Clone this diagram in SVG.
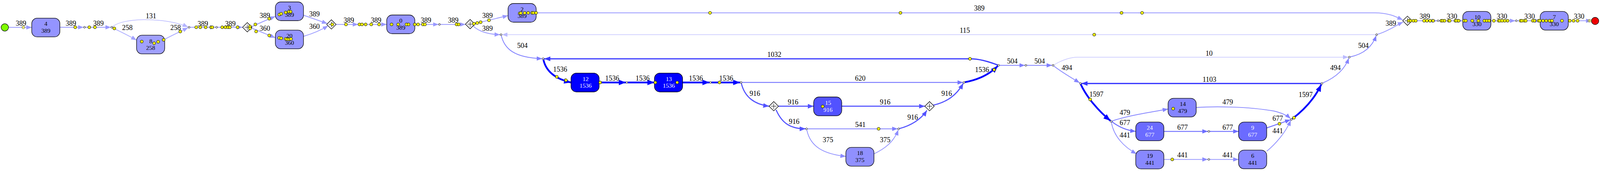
<svg xmlns="http://www.w3.org/2000/svg" width="4748" height="439" viewBox="0 0 4748 439">
<style>
.e{fill:none}
.c389{stroke:#9999FF;stroke-width:2}
.c131{stroke:#B5B5FF;stroke-width:1.5}
.c258{stroke:#A3A3FF;stroke-width:1.8}
.c1536{stroke:#0000FF;stroke-width:4.5}
.c1032{stroke:#3A3AFF;stroke-width:3.2}
.c916{stroke:#5252FF;stroke-width:2.8}
.c620{stroke:#7373FF;stroke-width:2.2}
.c677{stroke:#6D6DFF;stroke-width:2.3}
.c504{stroke:#7F7FFF;stroke-width:2}
.c479{stroke:#8585FF;stroke-width:2}
.c441{stroke:#8C8CFF;stroke-width:1.8}
.c10{stroke:#C4C4FF;stroke-width:1.4}
.l{font-family:"Liberation Serif","Times New Roman",serif;font-size:18px;text-anchor:middle;fill:#000}
.t{font-family:"Liberation Serif","Times New Roman",serif;font-size:15.5px;text-anchor:middle;fill:#000}
.w{fill:#fff}
.nd{stroke:#000;stroke-width:1.3}
.y{fill:#FFFF00;stroke:#000;stroke-width:1}
.f{opacity:.55}
.s{fill:#fff;stroke:#000;stroke-width:1}
.dm{fill:#fff;stroke:#000;stroke-width:1.3}
.pl{fill:none;stroke:#000;stroke-width:1}
</style>
<defs>
<marker id="m389" viewBox="0 0 14 11" refX="14" refY="5.5" markerWidth="14" markerHeight="11" markerUnits="userSpaceOnUse" orient="auto"><path d="M0,0L14,5.5L0,11z" fill="#9999FF"/></marker>
<marker id="m131" viewBox="0 0 14 11" refX="14" refY="5.5" markerWidth="14" markerHeight="11" markerUnits="userSpaceOnUse" orient="auto"><path d="M0,0L14,5.5L0,11z" fill="#B5B5FF"/></marker>
<marker id="m258" viewBox="0 0 14 11" refX="14" refY="5.5" markerWidth="14" markerHeight="11" markerUnits="userSpaceOnUse" orient="auto"><path d="M0,0L14,5.5L0,11z" fill="#A3A3FF"/></marker>
<marker id="m1536" viewBox="0 0 18 14" refX="18" refY="7" markerWidth="18" markerHeight="14" markerUnits="userSpaceOnUse" orient="auto"><path d="M0,0L18,7L0,14z" fill="#0000FF"/></marker>
<marker id="m1032" viewBox="0 0 16 12" refX="16" refY="6" markerWidth="16" markerHeight="12" markerUnits="userSpaceOnUse" orient="auto"><path d="M0,0L16,6L0,12z" fill="#3A3AFF"/></marker>
<marker id="m916" viewBox="0 0 15 12" refX="15" refY="6" markerWidth="15" markerHeight="12" markerUnits="userSpaceOnUse" orient="auto"><path d="M0,0L15,6L0,12z" fill="#5252FF"/></marker>
<marker id="m620" viewBox="0 0 14 11" refX="14" refY="5.5" markerWidth="14" markerHeight="11" markerUnits="userSpaceOnUse" orient="auto"><path d="M0,0L14,5.5L0,11z" fill="#7373FF"/></marker>
<marker id="m677" viewBox="0 0 14 11" refX="14" refY="5.5" markerWidth="14" markerHeight="11" markerUnits="userSpaceOnUse" orient="auto"><path d="M0,0L14,5.5L0,11z" fill="#6D6DFF"/></marker>
<marker id="m504" viewBox="0 0 14 11" refX="14" refY="5.5" markerWidth="14" markerHeight="11" markerUnits="userSpaceOnUse" orient="auto"><path d="M0,0L14,5.5L0,11z" fill="#7F7FFF"/></marker>
<marker id="m479" viewBox="0 0 14 11" refX="14" refY="5.5" markerWidth="14" markerHeight="11" markerUnits="userSpaceOnUse" orient="auto"><path d="M0,0L14,5.5L0,11z" fill="#8585FF"/></marker>
<marker id="m441" viewBox="0 0 14 11" refX="14" refY="5.5" markerWidth="14" markerHeight="11" markerUnits="userSpaceOnUse" orient="auto"><path d="M0,0L14,5.5L0,11z" fill="#8C8CFF"/></marker>
<marker id="m10" viewBox="0 0 14 11" refX="14" refY="5.5" markerWidth="14" markerHeight="11" markerUnits="userSpaceOnUse" orient="auto"><path d="M0,0L14,5.5L0,11z" fill="#BBBBFF"/></marker>
<g id="dia"><path d="M-12,0L0,-12L12,0L0,12Z" class="dm"/><path d="M-7,0H7M0,-7V7" class="pl"/></g>
</defs>
<g id="connectors">
<path class="e c389" marker-end="url(#m389)" d="M21.8,70.3H81.3"/>
<path class="e c389" marker-end="url(#m389)" d="M153.3,70H213.8"/>
<path class="e c389" marker-end="url(#m389)" d="M218.8,70H283.7"/>
<path class="e c258" marker-end="url(#m258)" d="M288,71.5C306,80 332,93 349.6,103"/>
<path class="e c131" marker-end="url(#m131)" d="M288,68.5C302,57 332,51 366.6,50.5C409.8,50 452.9,57 481.5,69.3"/>
<path class="e c258" marker-end="url(#m258)" d="M418.9,102.3C435.7,93 461.5,81 481.5,71"/>
<path class="e c389" marker-end="url(#m389)" d="M486.5,70H551.9"/>
<path class="e c389" marker-end="url(#m389)" d="M556.9,70H621"/>
<path class="e c389" marker-end="url(#m389)" d="M644.3,68.5C660,61 685.8,50 704.9,42"/>
<path class="e c389" marker-end="url(#m389)" d="M644.3,72C660,79 685.8,89 704.9,97"/>
<path class="e c389" marker-end="url(#m389)" d="M776.9,39L838,60.5"/>
<path class="e c389" marker-end="url(#m389)" d="M776.9,93.3C802,86 824,76 840,66"/>
<path class="e c389" marker-end="url(#m389)" d="M860.3,62.7H917"/>
<path class="e c389" marker-end="url(#m389)" d="M917,62.7H990"/>
<path class="e c389" marker-end="url(#m389)" d="M1062,62.7H1122.5"/>
<path class="e c389" marker-end="url(#m389)" d="M1127.5,62.7H1191.5"/>
<path class="e c389" marker-end="url(#m389)" d="M1213.5,61C1242.2,54 1276.8,46 1300.6,40"/>
<path class="e c389" marker-end="url(#m389)" d="M1211.5,67C1225.3,80 1246.8,88 1280.1,89"/>
<path class="e c10" marker-end="url(#m10)" d="M3521.6,89H1285.1"/>
<path class="e c504" marker-end="url(#m504)" d="M1283.3,91.5C1291.5,125 1315.3,148 1387.9,150.7"/>
<path class="e c1032" marker-end="url(#m1032)" d="M2554.4,167C2527.7,157 2506.1,151 2483.1,151H1392.9"/>
<path class="e c1536" marker-end="url(#m1536)" d="M1391.1,153C1397.4,182 1419.2,202 1461.8,211.7"/>
<path class="e c1536" marker-end="url(#m1536)" d="M1533.8,211.7H1602.1"/>
<path class="e c1536" marker-end="url(#m1536)" d="M1607.1,211.7H1675.4"/>
<path class="e c1536" marker-end="url(#m1536)" d="M1747.4,211.7H1816.3"/>
<path class="e c1536" marker-end="url(#m1536)" d="M1821.3,211.7H1894.6"/>
<path class="e c620" marker-end="url(#m620)" d="M1899.6,211.7H2465.4"/>
<path class="e c916" marker-end="url(#m916)" d="M1897.8,214C1906.6,250 1932.4,268 1968.8,272.7"/>
<path class="e c916" marker-end="url(#m916)" d="M1992.8,272.7H2082.9"/>
<path class="e c916" marker-end="url(#m916)" d="M1986.8,282C2001.5,316 2023.1,330.7 2062.2,330.7"/>
<path class="e c504" marker-end="url(#m504)" d="M2067.2,330.7H2298"/>
<path class="e c441" marker-end="url(#m441)" d="M2065.3,333C2074.8,380 2113.6,396 2165.4,401.5"/>
<path class="e c441" marker-end="url(#m441)" d="M2237.4,395C2264.6,382 2287.9,365 2299.5,333.5"/>
<path class="e c916" marker-end="url(#m916)" d="M2154.9,272.7H2367.6"/>
<path class="e c916" marker-end="url(#m916)" d="M2302.7,330C2329.3,323 2356.9,308 2372.8,283.5"/>
<path class="e c916" marker-end="url(#m916)" d="M2389.3,270C2424.2,262 2448.3,245 2466,214"/>
<path class="e c1536" marker-end="url(#m1536)" d="M2470.2,211C2501.8,205 2532,192 2554.1,169.5"/>
<path class="e c504" marker-end="url(#m504)" d="M2558.9,167.7H2623.6"/>
<path class="e c504" marker-end="url(#m504)" d="M2628.6,167.7H2693.4"/>
<path class="e c10" marker-end="url(#m10)" d="M2697.9,166.5C2717.5,155 2739.1,146.7 2759.8,146.7H3451.7"/>
<path class="e c479" marker-end="url(#m479)" d="M2697.9,169.5C2717.5,185 2743.4,200 2763.8,212.5"/>
<path class="e c1032" marker-end="url(#m1032)" d="M3381.6,214.3H2768.3"/>
<path class="e c1536" marker-end="url(#m1536)" d="M2766.8,216.5C2782.1,250 2812.4,285 2842.7,310"/>
<path class="e c479" marker-end="url(#m479)" d="M2846.6,311C2881.4,298 2950.4,287 2990.3,280"/>
<path class="e c677" marker-end="url(#m677)" d="M2846.6,312.5C2864.2,326 2885.7,335 2907.5,337.3"/>
<path class="e c441" marker-end="url(#m441)" d="M2845.1,314C2851.2,350 2877.1,377 2909.5,395"/>
<path class="e c677" marker-end="url(#m677)" d="M2979.5,337.3H3092"/>
<path class="e c441" marker-end="url(#m441)" d="M2979.5,409.3H3092"/>
<path class="e c677" marker-end="url(#m677)" d="M3097,337.3H3170.8"/>
<path class="e c441" marker-end="url(#m441)" d="M3097,409.3H3170.8"/>
<path class="e c479" marker-end="url(#m479)" d="M3062.3,276C3105.7,273 3192,273 3261,285C3282.6,290 3295.5,297 3303.8,304.5"/>
<path class="e c677" marker-end="url(#m677)" d="M3242.8,328.3L3303.6,307.5"/>
<path class="e c441" marker-end="url(#m441)" d="M3242.8,388.3C3265.3,370 3291.2,340 3304.3,309"/>
<path class="e c1536" marker-end="url(#m1536)" d="M3308.3,305C3338.6,282 3364.5,255 3382.4,217"/>
<path class="e c479" marker-end="url(#m479)" d="M3386.4,213C3416.3,200 3442.2,180 3452.7,149.2"/>
<path class="e c504" marker-end="url(#m504)" d="M3456.7,146C3485.3,140 3511.1,125 3523.1,91.5"/>
<path class="e c389" marker-end="url(#m389)" d="M3526.6,88C3554.3,80 3571.6,66 3592.1,56.5"/>
<path class="e c389" marker-end="url(#m389)" d="M1372.6,33H3519.8C3554.3,33 3571.6,42 3591.1,51"/>
<path class="e c389" marker-end="url(#m389)" d="M3615,53.3H3679"/>
<path class="e c389" marker-end="url(#m389)" d="M3684,53.3H3744.7"/>
<path class="e c389" marker-end="url(#m389)" d="M3816.7,53.3H3879.3"/>
<path class="e c389" marker-end="url(#m389)" d="M3884.3,53.3H3942.8"/>
<path class="e c389" marker-end="url(#m389)" d="M4014.8,53.3H4074.1"/>
<g id="edge-labels">
<text class="l" x="53.7" y="66">389</text>
<text class="l" x="181.4" y="66">389</text>
<text class="l" x="251.9" y="66">389</text>
<text class="l" x="326" y="76.7">258</text>
<text class="l" x="386.5" y="47.3">131</text>
<text class="l" x="449.5" y="76.7">258</text>
<text class="l" x="519.3" y="66.7">389</text>
<text class="l" x="589.8" y="66.7">389</text>
<text class="l" x="678.1" y="46">389</text>
<text class="l" x="678.1" y="79.3">360</text>
<text class="l" x="805.1" y="42">389</text>
<text class="l" x="805.1" y="74">360</text>
<text class="l" x="892.9" y="58.3">389</text>
<text class="l" x="962.8" y="58.3">389</text>
<text class="l" x="1090.5" y="58.3">389</text>
<text class="l" x="1160.3" y="58.3">389</text>
<text class="l" x="1248.1" y="46">389</text>
<text class="l" x="1248.1" y="79.3">389</text>
<text class="l" x="1337.2" y="123.3">504</text>
<text class="l" x="2507" y="27">389</text>
<text class="l" x="2469.9" y="84">115</text>
<text class="l" x="1434" y="184.3">1536</text>
<text class="l" x="1567.2" y="206.7">1536</text>
<text class="l" x="1644.9" y="206.7">1536</text>
<text class="l" x="1781.5" y="206.7">1536</text>
<text class="l" x="1859.1" y="206.7">1536</text>
<text class="l" x="1982.2" y="146">1032</text>
<text class="l" x="2202.2" y="206.7">620</text>
<text class="l" x="1932.4" y="246">916</text>
<text class="l" x="2030.2" y="268.3">916</text>
<text class="l" x="2033" y="318.3">916</text>
<text class="l" x="2202.5" y="326">541</text>
<text class="l" x="2119.4" y="365">375</text>
<text class="l" x="2266" y="365">375</text>
<text class="l" x="2266" y="268.3">916</text>
<text class="l" x="2336.4" y="307.3">916</text>
<text class="l" x="2423.6" y="246">916</text>
<text class="l" x="2514" y="185">1536</text>
<text class="l" x="2591.5" y="163.3">504</text>
<text class="l" x="2661.4" y="163.3">504</text>
<text class="l" x="2731.3" y="180">494</text>
<text class="l" x="3095.3" y="142.7">10</text>
<text class="l" x="3096.2" y="210">1103</text>
<text class="l" x="2806.8" y="248.3">1597</text>
<text class="l" x="2879.7" y="295">479</text>
<text class="l" x="2879.7" y="320.7">677</text>
<text class="l" x="2879.7" y="352.7">441</text>
<text class="l" x="3027.2" y="332.7">677</text>
<text class="l" x="3027.2" y="404.3">441</text>
<text class="l" x="3143" y="268.3">479</text>
<text class="l" x="3143" y="332.7">677</text>
<text class="l" x="3143" y="404.3">441</text>
<text class="l" x="3271.1" y="310">677</text>
<text class="l" x="3271.1" y="342.3">441</text>
<text class="l" x="3342.6" y="249">1597</text>
<text class="l" x="3418.8" y="180">494</text>
<text class="l" x="3490.2" y="122.7">504</text>
<text class="l" x="3560.4" y="66">389</text>
<text class="l" x="3647.5" y="48.3">389</text>
<text class="l" x="3717.1" y="48.3">330</text>
<text class="l" x="3845.1" y="48.3">330</text>
<text class="l" x="3915.8" y="48.3">330</text>
<text class="l" x="4042.6" y="48.3">330</text>
</g>
</g>
<g id="nodes">
<g id="start"><circle cx="12.3" cy="70.3" r="9.5" fill="#7FFF00" stroke="#000" stroke-width="1.2"/></g>
<g id="end"><circle cx="4083.5" cy="53.8" r="9.4" fill="#EE0000" stroke="#000" stroke-width="1.2"/></g>
<g id="n4"><rect class="nd" x="81.3" y="46.7" width="72" height="48" rx="14" fill="#9494FF"/><text class="t" x="117.3" y="66.4">4</text><text class="t" x="117.3" y="84">389</text></g>
<g id="n8"><rect class="nd" x="349.6" y="90.3" width="72" height="48" rx="14" fill="#A0A0FF"/><text class="t" x="386.1" y="110.5">8</text><text class="t" x="385.6" y="128">258</text></g>
<g id="n3"><rect class="nd" x="704.9" y="5" width="72" height="48" rx="14" fill="#9494FF"/><text class="t" x="741.1" y="25">3</text><text class="t" x="741.1" y="42.5">389</text></g>
<g id="n20"><rect class="nd" x="704.9" y="77.3" width="72" height="48" rx="14" fill="#9696FF"/><text class="t" x="741.1" y="97.2">20</text><text class="t" x="741.1" y="114.7">360</text></g>
<g id="n0"><rect class="nd" x="990" y="38.5" width="72" height="48" rx="14" fill="#9494FF"/><text class="t" x="1026" y="58.3">0</text><text class="t" x="1026" y="75.8">389</text></g>
<g id="n2"><rect class="nd" x="1300.6" y="9" width="72" height="48" rx="14" fill="#9494FF"/><text class="t" x="1336.6" y="28.8">2</text><text class="t" x="1336.6" y="46.3">389</text></g>
<g id="n12"><rect class="nd" x="1461.8" y="187.7" width="72" height="48.3" rx="14" fill="#0000FF"/><text class="t w" x="1499.3" y="207.8">12</text><text class="t w" x="1499.3" y="225.3">1536</text></g>
<g id="n13"><rect class="nd" x="1675.4" y="187.7" width="72" height="48.3" rx="14" fill="#0000FF"/><text class="t w" x="1712.2" y="207.8">13</text><text class="t w" x="1712.2" y="225.3">1536</text></g>
<g id="n15"><rect class="nd" x="2082.9" y="249" width="72" height="48.3" rx="14" fill="#5252FF"/><text class="t w" x="2120" y="269">15</text><text class="t w" x="2119.7" y="286.5">916</text></g>
<g id="n18"><rect class="nd" x="2165.4" y="378.3" width="72" height="48.3" rx="14" fill="#9090FF"/><text class="t" x="2201.4" y="398.2">18</text><text class="t" x="2201.4" y="415.7">375</text></g>
<g id="n14"><rect class="nd" x="2990.3" y="252.3" width="72" height="48" rx="14" fill="#8484FF"/><text class="t" x="3027.9" y="272">14</text><text class="t" x="3027.3" y="289.6">479</text></g>
<g id="n24"><rect class="nd" x="2907.5" y="313.3" width="72" height="48" rx="14" fill="#6B6BFF"/><text class="t w" x="2943.5" y="333">24</text><text class="t w" x="2943.5" y="350.6">677</text></g>
<g id="n19"><rect class="nd" x="2907.5" y="385.7" width="72" height="48" rx="14" fill="#8888FF"/><text class="t" x="2943.5" y="405.4">19</text><text class="t" x="2943.5" y="423">441</text></g>
<g id="n9"><rect class="nd" x="3170.8" y="313.3" width="72" height="48" rx="14" fill="#6B6BFF"/><text class="t w" x="3206.8" y="333">9</text><text class="t w" x="3206.8" y="350.6">677</text></g>
<g id="n6"><rect class="nd" x="3170.8" y="385.3" width="72" height="48" rx="14" fill="#8888FF"/><text class="t" x="3206.8" y="405">6</text><text class="t" x="3206.8" y="422.6">441</text></g>
<g id="n10"><rect class="nd" x="3744.7" y="29.3" width="72" height="48" rx="14" fill="#9494FF"/><text class="t" x="3782.2" y="49">10</text><text class="t" x="3781.2" y="66.6">330</text></g>
<g id="n7"><rect class="nd" x="3942.8" y="29.3" width="72" height="48" rx="14" fill="#9494FF"/><text class="t" x="3979.2" y="49">7</text><text class="t" x="3978.8" y="66.6">330</text></g>
<g id="d1"><use href="#dia" x="633" y="70"/></g>
<g id="d2"><use href="#dia" x="848.3" y="62.7"/></g>
<g id="d3"><use href="#dia" x="1203.5" y="62"/></g>
<g id="d5"><use href="#dia" x="1980.8" y="272.7"/></g>
<g id="d6"><use href="#dia" x="2379.6" y="272.7"/></g>
<g id="d4"><use href="#dia" x="3603" y="53.3"/></g>
<g id="a1"><circle class="s" cx="216.3" cy="70" r="2.3"/></g>
<g id="a2"><circle class="s" cx="286.2" cy="70" r="2.3"/></g>
<g id="a3"><circle class="s" cx="484" cy="70" r="2.3"/></g>
<g id="a4"><circle class="s" cx="554.4" cy="70" r="2.3"/></g>
<g id="a5"><circle class="s" cx="1125" cy="62.7" r="2.3"/></g>
<g id="a6"><circle class="s" cx="1282.6" cy="89" r="2.3"/></g>
<g id="a7"><circle class="s" cx="3524.1" cy="89" r="2.3"/></g>
<g id="a8"><circle class="s" cx="1390.4" cy="150.7" r="2.3"/></g>
<g id="a9"><circle class="s" cx="2556.4" cy="167.7" r="2.3"/></g>
<g id="a10"><circle class="s" cx="1604.6" cy="211.7" r="2.3"/></g>
<g id="a11"><circle class="s" cx="1818.8" cy="211.7" r="2.3"/></g>
<g id="a12"><circle class="s" cx="1897.1" cy="211.7" r="2.3"/></g>
<g id="a13"><circle class="s" cx="2467.9" cy="211.7" r="2.3"/></g>
<g id="a14"><circle class="s" cx="2064.7" cy="330.7" r="2.3"/></g>
<g id="a15"><circle class="s" cx="2300.5" cy="330.7" r="2.3"/></g>
<g id="a16"><circle class="s" cx="2626.1" cy="167.7" r="2.3"/></g>
<g id="a17"><circle class="s" cx="2695.9" cy="167.7" r="2.3"/></g>
<g id="a18"><circle class="s" cx="3454.2" cy="146.7" r="2.3"/></g>
<g id="a19"><circle class="s" cx="2765.8" cy="214.3" r="2.3"/></g>
<g id="a20"><circle class="s" cx="3384.1" cy="214.3" r="2.3"/></g>
<g id="a21"><circle class="s" cx="2844.6" cy="311.7" r="2.3"/></g>
<g id="a22"><circle class="s" cx="3094.5" cy="337.3" r="2.3"/></g>
<g id="a23"><circle class="s" cx="3094.5" cy="409.3" r="2.3"/></g>
<g id="a24"><circle class="s" cx="3306.1" cy="306.7" r="2.3"/></g>
<g id="a25"><circle class="s" cx="3681.5" cy="53.3" r="2.3"/></g>
<g id="a26"><circle class="s" cx="3881.8" cy="53.3" r="2.3"/></g>
</g>
<g id="dots">
<circle class="y f" cx="59.8" cy="70.3" r="3.8"/>
<circle class="y" cx="192.6" cy="70" r="3.8"/><circle class="y" cx="228.6" cy="70" r="3.8"/><circle class="y" cx="243" cy="70" r="3.8"/><circle class="y" cx="292.7" cy="73" r="3.8"/>
<circle class="y" cx="362.9" cy="106.7" r="3.8"/><circle class="y" cx="394.6" cy="111" r="3.8"/><circle class="y" cx="404.9" cy="107.3" r="3.8"/><circle class="y" cx="418.9" cy="102.3" r="3.8"/>
<circle class="y" cx="461.5" cy="81" r="3.8"/>
<circle class="y" cx="502.3" cy="70" r="3.8"/><circle class="y" cx="512.7" cy="70" r="3.8"/><circle class="y" cx="526.5" cy="70" r="3.8"/><circle class="y" cx="540.3" cy="70" r="3.8"/><circle class="y" cx="543.5" cy="70" r="3.8"/>
<circle class="y" cx="568.8" cy="70" r="3.8"/><circle class="y" cx="576.9" cy="70" r="3.8"/><circle class="y" cx="583.8" cy="70" r="3.8"/><circle class="y" cx="588.4" cy="70" r="3.8"/><circle class="y" cx="608.2" cy="70" r="3.8"/>
<circle class="y" cx="640" cy="68" r="3.8"/><circle class="y" cx="640" cy="73" r="3.8"/><circle class="y" cx="653.7" cy="62.7" r="3.8"/><circle class="y" cx="655.7" cy="80.7" r="3.8"/><circle class="y" cx="689.3" cy="48" r="3.8"/><circle class="y" cx="689.3" cy="91" r="3.8"/>
<circle class="y" cx="715.4" cy="37.3" r="3.8"/><circle class="y" cx="719.8" cy="35.3" r="3.8"/><circle class="y" cx="731.4" cy="32" r="3.8"/><circle class="y" cx="739.4" cy="30" r="3.8"/><circle class="y" cx="743.8" cy="30" r="3.8"/>
<circle class="y" cx="714.8" cy="97.3" r="3.8"/><circle class="y" cx="719.8" cy="98.3" r="3.8"/><circle class="y" cx="731.4" cy="100" r="3.8"/><circle class="y" cx="735.4" cy="100.7" r="3.8"/><circle class="y" cx="740.4" cy="100.7" r="3.8"/><circle class="y" cx="744.8" cy="100" r="3.8"/>
<circle class="y" cx="850.7" cy="62.7" r="3.8"/><circle class="y" cx="885.7" cy="62.7" r="3.8"/><circle class="y" cx="920.2" cy="62.7" r="3.8"/><circle class="y" cx="926.8" cy="62.7" r="3.8"/><circle class="y" cx="936" cy="62.7" r="3.8"/><circle class="y" cx="950.4" cy="62.7" r="3.8"/><circle class="y" cx="970.5" cy="62.7" r="3.8"/>
<circle class="y" cx="1002.4" cy="62.7" r="3.8"/><circle class="y" cx="1019.4" cy="62.7" r="3.8"/><circle class="y" cx="1040.7" cy="62.7" r="3.8"/><circle class="y" cx="1045.7" cy="62.7" r="3.8"/><circle class="y" cx="1061.7" cy="62.7" r="3.8"/><circle class="y" cx="1070.3" cy="62.7" r="3.8"/><circle class="y" cx="1082.7" cy="62.7" r="3.8"/><circle class="y" cx="1087.7" cy="62.7" r="3.8"/>
<circle class="y" cx="1168.9" cy="62.7" r="3.8"/><circle class="y" cx="1174.1" cy="62.7" r="3.8"/>
<circle class="y" cx="1213.2" cy="61" r="3.8"/><circle class="y" cx="1221.6" cy="59" r="3.8"/><circle class="y" cx="1230.4" cy="57" r="3.8"/><circle class="y" cx="1251.8" cy="52" r="3.8"/>
<circle class="y" cx="1330.6" cy="34" r="3.8"/><circle class="y" cx="1333.3" cy="33.7" r="3.8"/><circle class="y" cx="1343.3" cy="33.3" r="3.8"/><circle class="y" cx="1352.3" cy="33" r="3.8"/><circle class="y" cx="1362.3" cy="33" r="3.8"/><circle class="y" cx="1365.3" cy="33" r="3.8"/><circle class="y" cx="1372.3" cy="33" r="3.8"/>
<circle class="y" cx="1817.7" cy="33" r="3.8"/><circle class="y" cx="2305.1" cy="33" r="3.8"/><circle class="y" cx="2871.1" cy="33" r="3.8"/><circle class="y" cx="2923.7" cy="33" r="3.8"/>
<circle class="y" cx="2801.2" cy="89" r="3.8"/>
<circle class="y" cx="1425.4" cy="197.3" r="3.8"/><circle class="y" cx="1448.7" cy="206" r="3.8"/><circle class="y" cx="1536.5" cy="211.7" r="3.8"/><circle class="y" cx="1677.7" cy="211.7" r="3.8"/><circle class="y" cx="1733.6" cy="211.7" r="3.8"/><circle class="y" cx="1841.9" cy="211.7" r="3.8"/>
<circle class="y" cx="2106" cy="273.3" r="3.8"/><circle class="y" cx="2249.3" cy="330.7" r="3.8"/><circle class="y" cx="2483.1" cy="151" r="3.8"/><circle class="y" cx="2544.9" cy="179" r="3.8"/>
<circle class="y" cx="2790.8" cy="255.3" r="3.8"/><circle class="y" cx="3003.3" cy="279" r="3.8"/><circle class="y" cx="3001" cy="409.3" r="3.8"/><circle class="y" cx="3275.4" cy="317.7" r="3.8"/><circle class="y" cx="3312.5" cy="302.3" r="3.8"/>
<circle class="y" cx="3606.5" cy="53.3" r="3.8"/><circle class="y" cx="3610.8" cy="53.3" r="3.8"/><circle class="y" cx="3618.3" cy="53.3" r="3.8"/><circle class="y" cx="3624.3" cy="53.3" r="3.8"/><circle class="y" cx="3645.7" cy="53.3" r="3.8"/><circle class="y" cx="3652.9" cy="53.3" r="3.8"/><circle class="y" cx="3661.1" cy="53.3" r="3.8"/><circle class="y" cx="3668.9" cy="53.3" r="3.8"/>
<circle class="y" cx="3689.7" cy="53.3" r="3.8"/><circle class="y" cx="3692.9" cy="53.3" r="3.8"/><circle class="y" cx="3697.9" cy="53.3" r="3.8"/><circle class="y" cx="3708.7" cy="53.3" r="3.8"/><circle class="y" cx="3711.2" cy="53.3" r="3.8"/><circle class="y" cx="3725.7" cy="53.3" r="3.8"/><circle class="y" cx="3728.3" cy="53.3" r="3.8"/><circle class="y" cx="3734" cy="53.3" r="3.8"/>
<circle class="y" cx="3748.3" cy="53.3" r="3.8"/><circle class="y" cx="3752.4" cy="53.3" r="3.8"/><circle class="y" cx="3769" cy="53.3" r="3.8"/><circle class="y" cx="3784.7" cy="53.3" r="3.8"/><circle class="y" cx="3800" cy="53.3" r="3.8"/><circle class="y" cx="3806.2" cy="53.3" r="3.8"/><circle class="y" cx="3812.3" cy="53.3" r="3.8"/>
<circle class="y" cx="3824.3" cy="53.3" r="3.8"/><circle class="y" cx="3836.6" cy="53.3" r="3.8"/><circle class="y" cx="3839.8" cy="53.3" r="3.8"/><circle class="y" cx="3845.4" cy="53.3" r="3.8"/><circle class="y" cx="3852.1" cy="53.3" r="3.8"/><circle class="y" cx="3859.4" cy="53.3" r="3.8"/>
<circle class="y" cx="3892.7" cy="53.3" r="3.8"/><circle class="y" cx="3896" cy="53.3" r="3.8"/><circle class="y" cx="3902.5" cy="53.3" r="3.8"/><circle class="y" cx="3905.9" cy="53.3" r="3.8"/><circle class="y" cx="3924" cy="53.3" r="3.8"/><circle class="y" cx="3928.3" cy="53.3" r="3.8"/><circle class="y" cx="3938.9" cy="53.3" r="3.8"/><circle class="y" cx="3942.2" cy="53.3" r="3.8"/>
<circle class="y" cx="3950.3" cy="53.3" r="3.8"/><circle class="y" cx="3958.5" cy="53.3" r="3.8"/><circle class="y" cx="3966.8" cy="53.3" r="3.8"/><circle class="y" cx="3973" cy="53.3" r="3.8"/><circle class="y" cx="3998.6" cy="53.3" r="3.8"/>
<circle class="y" cx="4018.6" cy="53.3" r="3.8"/><circle class="y" cx="4028.3" cy="53.3" r="3.8"/><circle class="y" cx="4038.6" cy="53.3" r="3.8"/>
<circle class="y" cx="4067.6" cy="53.3" r="3.8" opacity="0.4"/><circle class="y" cx="4070.8" cy="53.3" r="3.8" opacity="0.4"/>
</g>
</svg>
